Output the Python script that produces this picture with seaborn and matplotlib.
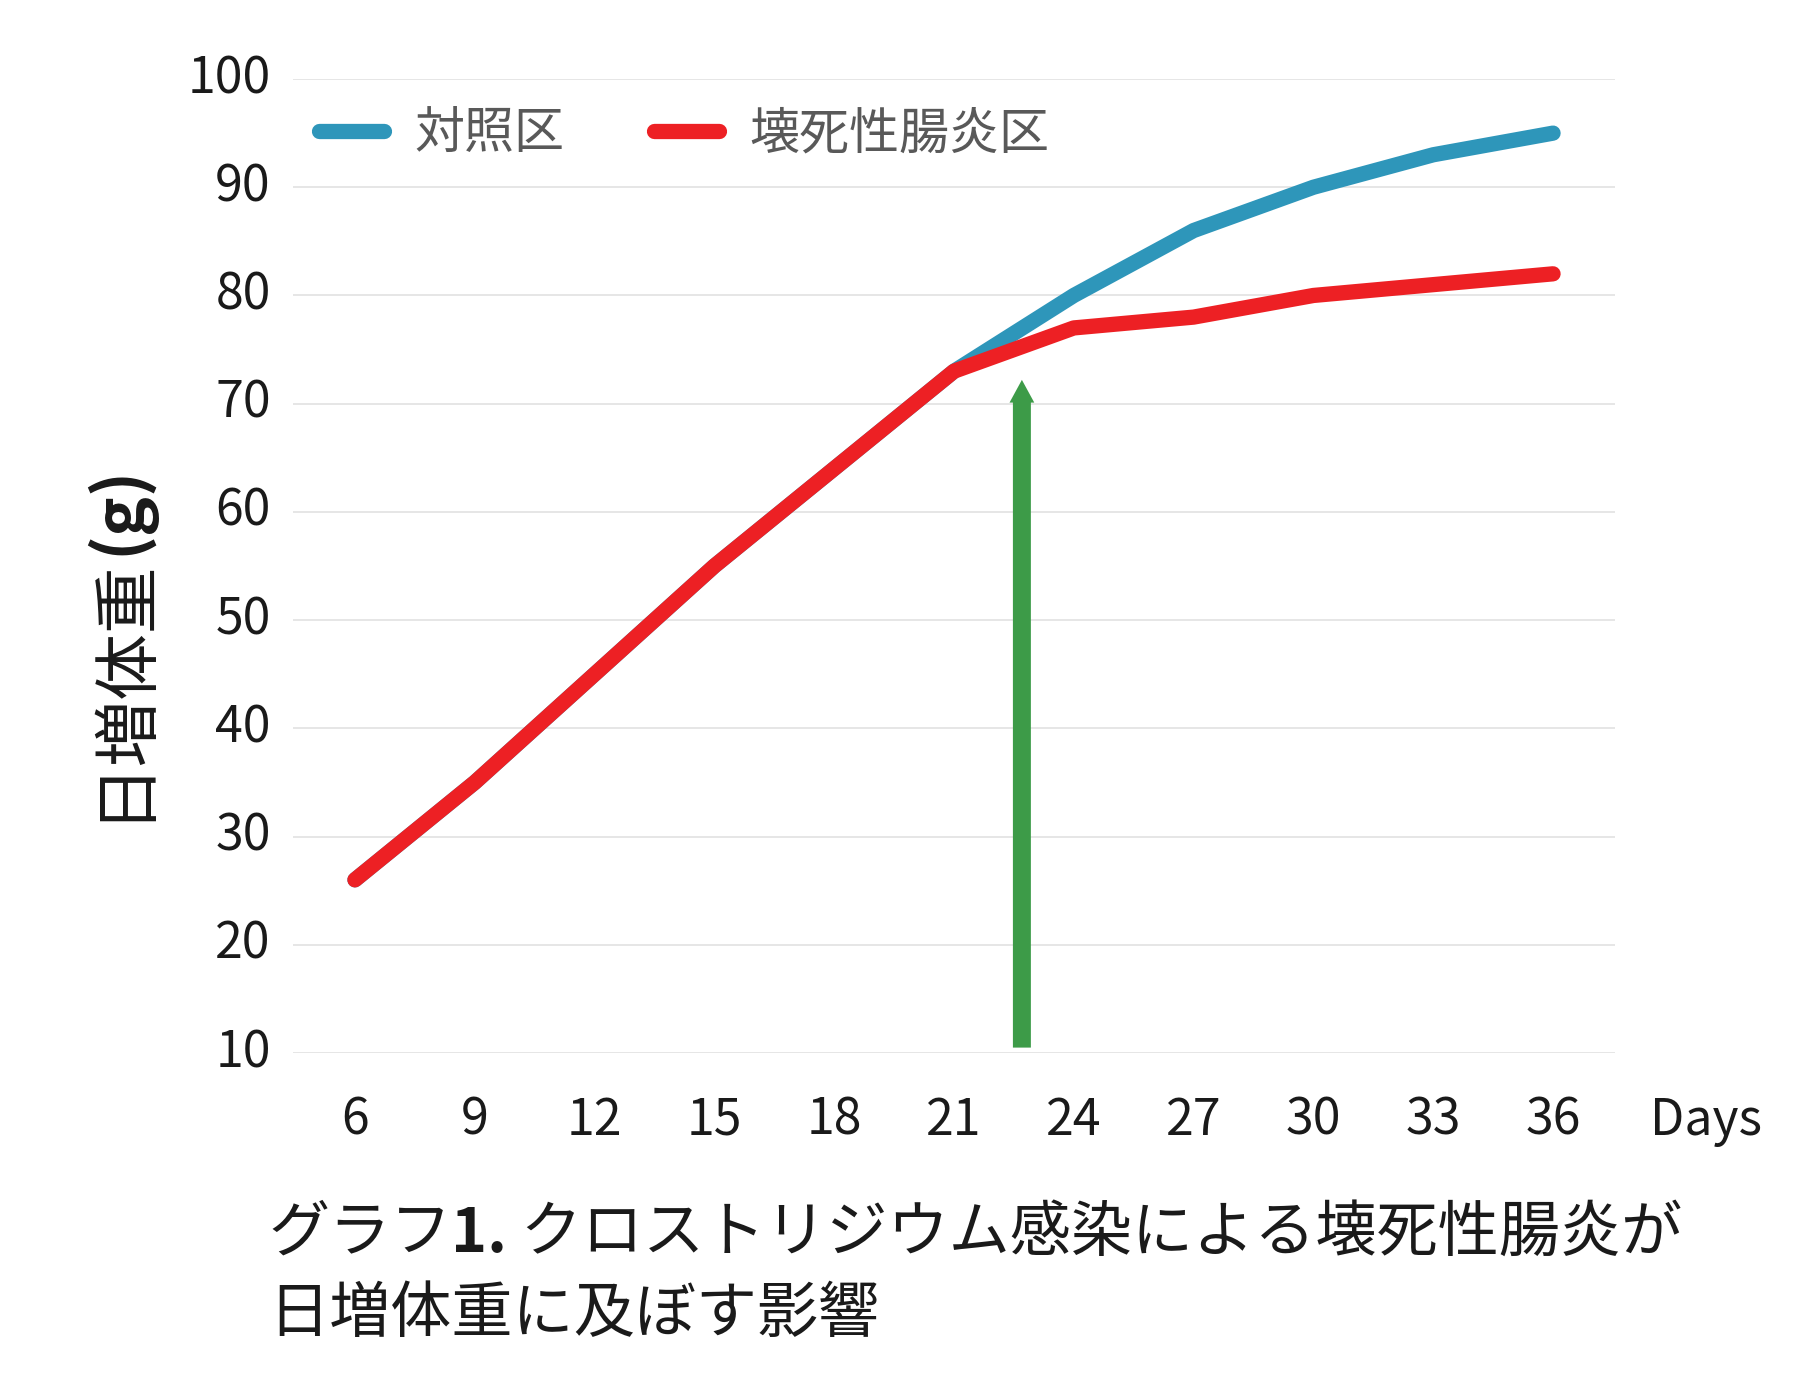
import pandas as pd
import seaborn as sns
import matplotlib.pyplot as plt

# Data
days = [6, 9, 12, 15, 18, 21, 24, 27, 30, 33, 36]
control = [26, 35, 45, 55, 64, 73, 80, 86, 90, 93, 95]
nec = [26, 35, 45, 55, 64, 73, 77, 78, 80, 81, 82]
groups = ["対照区", "壊死性腸炎区"]
colors = ["#2E96BA", "#ED2024"]
yticks = [10, 20, 30, 40, 50, 60, 70, 80, 90, 100]
arrow_day = 22.7
arrow_from = 10.5
arrow_to = 72.2

df = pd.DataFrame({
    "day": days * 2,
    "weight": control + nec,
    "group": [groups[0]] * len(days) + [groups[1]] * len(days),
})

sns.set_style("white")
plt.rcParams["font.family"] = ["Noto Sans CJK JP", "DejaVu Sans"]

fig = plt.figure(figsize=(18, 13.79), dpi=100)
ax = fig.add_axes([0.1628, 0.2364, 0.7344, 0.7063])

sns.lineplot(data=df, x="day", y="weight", hue="group", hue_order=groups,
             palette=colors, linewidth=11, solid_capstyle="round",
             errorbar=None, ax=ax, clip_on=False)

# green arrow marking the infection point
ax.arrow(arrow_day, arrow_from, 0, arrow_to - arrow_from, width=0.45,
         head_width=0.62, head_length=2.1, length_includes_head=True,
         color="#3D9B48", linewidth=0, zorder=1)

ax.set_xlim(4.45, 37.55)
ax.set_ylim(10, 100)
ax.set_xticks(days)
ax.set_yticks(yticks)
ax.set_xlabel("")
ax.set_ylabel("")
for s in ax.spines.values():
    s.set_visible(False)
ax.yaxis.grid(True, color="#e2e2e2", linewidth=1.2)
ax.xaxis.grid(False)
ax.set_axisbelow(True)
ax.tick_params(axis="both", length=0, labelsize=36, colors="#1a1a1a")
ax.tick_params(axis="y", pad=16)
ax.tick_params(axis="x", pad=30)
for lbl in ax.get_yticklabels():
    lbl.set_verticalalignment("center")

ax.annotate("Days", xy=(1, 0), xycoords="axes fraction", xytext=(25, -30),
            textcoords="offset points", ha="left", va="top", fontsize=36,
            color="#1a1a1a")

# legend
handles, labels = ax.get_legend_handles_labels()
leg = ax.legend(handles, labels, ncol=2, frameon=False, loc="center left",
                bbox_to_anchor=(0.1772, 0.9028), bbox_transform=fig.transFigure,
                fontsize=36, handlelength=1.3, handletextpad=0.6,
                columnspacing=1.8, borderpad=0, borderaxespad=0,
                labelcolor="#595959")
for line in leg.get_lines():
    line.set_linewidth(11)
    line.set_solid_capstyle("round")

# y axis label: "日増体重" + bold "(g)"
yl = fig.text(0.086, 0.4046, "日増体重", rotation=90, ha="right", va="bottom",
              fontsize=48, color="#1a1a1a")
ax.annotate("(g)", xy=(1, 1), xycoords=yl, ha="right", va="bottom",
            rotation=90, fontsize=48, fontweight="bold", color="#1a1a1a")

# caption
c1 = fig.text(0.1489, 0.0930, "グラフ", ha="left", va="baseline", fontsize=44,
              color="#1a1a1a")
c2 = ax.annotate("1.", xy=(1, 0), xycoords=c1, ha="left", va="bottom",
                 fontsize=44, fontweight="bold", color="#1a1a1a")
ax.annotate(" クロストリジウム感染による壊死性腸炎が", xy=(1, 0), xycoords=c2,
            ha="left", va="bottom", fontsize=44, color="#1a1a1a")
fig.text(0.1489, 0.0342, "日増体重に及ぼす影響", ha="left", va="baseline",
         fontsize=44, color="#1a1a1a")

fig.savefig("out.png", dpi=100)
